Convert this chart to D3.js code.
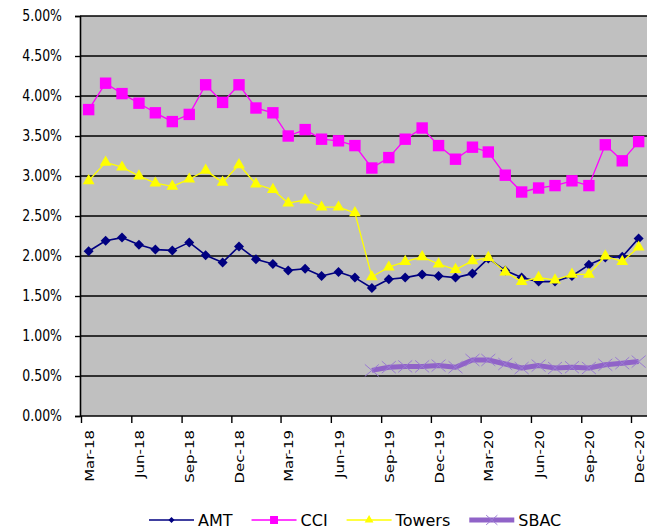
<!DOCTYPE html>
<html lang="en">
<head>
  <meta charset="utf-8"/>
  <title>Tower yields</title>
  <script src="https://cdnjs.cloudflare.com/ajax/libs/d3/7.8.5/d3.min.js"></script>
  <style>
    body { margin: 0; background: #fff; }
    svg text { font-family: "DejaVu Sans", Verdana, sans-serif; fill: #000; }
  </style>
</head>
<body>
<svg id="chart" width="647" height="531"></svg>
<script>
  // monthly categories, Mar-18 .. Dec-20
  var months = ["2018-03","2018-04","2018-05","2018-06","2018-07","2018-08","2018-09","2018-10","2018-11","2018-12",
                "2019-01","2019-02","2019-03","2019-04","2019-05","2019-06","2019-07","2019-08","2019-09","2019-10",
                "2019-11","2019-12","2020-01","2020-02","2020-03","2020-04","2020-05","2020-06","2020-07","2020-08",
                "2020-09","2020-10","2020-11","2020-12"];

  // values in percent
  var amt = [2.06, 2.19, 2.23, 2.14, 2.08, 2.07, 2.17, 2.01, 1.92, 2.12, 1.96, 1.90, 1.82, 1.84, 1.75, 1.80, 1.73,
             1.60, 1.71, 1.73, 1.77, 1.75, 1.73, 1.78, 1.97, 1.82, 1.73, 1.68, 1.68, 1.75, 1.89, 1.98, 1.99, 2.22];
  var cci = [3.83, 4.16, 4.03, 3.91, 3.79, 3.68, 3.77, 4.14, 3.92, 4.14, 3.85, 3.79, 3.50, 3.58, 3.46, 3.44, 3.38,
             3.10, 3.23, 3.46, 3.60, 3.38, 3.21, 3.36, 3.30, 3.01, 2.80, 2.85, 2.88, 2.94, 2.88, 3.39, 3.19, 3.43];
  var towers = [2.94, 3.17, 3.11, 3.00, 2.91, 2.87, 2.96, 3.07, 2.92, 3.14, 2.90, 2.83, 2.66, 2.70, 2.61, 2.61, 2.54,
                1.74, 1.86, 1.93, 1.99, 1.90, 1.83, 1.94, 1.98, 1.80, 1.68, 1.73, 1.70, 1.77, 1.77, 2.00, 1.93, 2.11];
  var sbac = [null, null, null, null, null, null, null, null, null, null, null, null, null, null, null, null, null,
              0.57, 0.61, 0.62, 0.62, 0.63, 0.61, 0.70, 0.70, 0.65, 0.60, 0.63, 0.60, 0.61, 0.60, 0.64, 0.66, 0.68];

  var yTicks = [0, 0.5, 1, 1.5, 2, 2.5, 3, 3.5, 4, 4.5, 5];

  var parseMonth = d3.timeParse("%Y-%m");
  var dates = months.map(function(m) { return parseMonth(m); });
  // points sit mid-month, like the excel date axis
  var mid = dates.map(function(d) { return d3.timeDay.offset(d, 14); });
  var labelDates = dates.filter(function(d, i) { return i % 3 === 0; });

  var svg = d3.select("#chart");
  var plotL = 80, plotR = 647, plotT = 16, plotB = 416;

  var x = d3.scaleTime()
    .domain([dates[0], dates[dates.length - 1]])
    .range([81, 631]);
  var y = d3.scaleLinear().domain([0, 5]).range([plotB, plotT]);

  svg.append("rect").attr("width", 647).attr("height", 531).attr("fill", "#fff");
  svg.append("rect")
    .attr("x", plotL).attr("y", plotT)
    .attr("width", plotR - plotL).attr("height", plotB - plotT)
    .attr("fill", "#c0c0c0");

  // gridlines
  svg.append("g").selectAll("line")
    .data(yTicks)
    .enter().append("line")
    .attr("x1", plotL).attr("x2", plotR)
    .attr("y1", function(d) { return y(d); })
    .attr("y2", function(d) { return y(d); })
    .attr("stroke", "#000")
    .attr("stroke-width", 1.6);

  // y axis
  var yAxis = svg.append("g")
    .attr("transform", "translate(" + plotL + ",0)")
    .call(d3.axisLeft(y).tickValues(yTicks).tickSize(5).tickPadding(13)
      .tickFormat(function(d) { return d.toFixed(2) + "%"; }));
  yAxis.select(".domain").attr("stroke", "#000").attr("stroke-width", 1.6);
  yAxis.selectAll(".tick line").attr("stroke", "#000").attr("stroke-width", 1.4);
  yAxis.selectAll(".tick text")
    .attr("font-size", 12.5)
    .attr("font-family", null)
    .attr("transform", "scale(1,1.2)");

  // x axis
  var xAxis = svg.append("g")
    .attr("transform", "translate(0," + plotB + ")")
    .call(d3.axisBottom(x).tickValues(labelDates).tickSize(7)
      .tickFormat(d3.timeFormat("%b-%y")));
  xAxis.select(".domain").remove();
  xAxis.selectAll(".tick line").attr("stroke", "#000").attr("stroke-width", 1.4);
  xAxis.selectAll(".tick text")
    .attr("font-size", 12)
    .attr("font-family", null)
    .attr("x", 0).attr("y", 0).attr("dy", "0.36em")
    .attr("text-anchor", "end")
    .attr("transform", "translate(8,14) rotate(-90) scale(1.25,1)");

  var line = d3.line()
    .defined(function(d) { return d[1] != null; })
    .x(function(d) { return x(d[0]); })
    .y(function(d) { return y(d[1]); });

  var crossPath = "M-7,-6L7,6M-7,6L7,-6";

  var series = [
    { name: "AMT", values: amt, color: "#000080", width: 1.6,
      marker: d3.symbol().type(d3.symbolSquare).size(50)(), rotate: 45, fill: "#000080", legendScale: 0.6 },
    { name: "CCI", values: cci, color: "#ff00ff", width: 1.3,
      marker: d3.symbol().type(d3.symbolSquare).size(130)(), rotate: 0, fill: "#ff00ff", legendScale: 0.7 },
    { name: "Towers", values: towers, color: "#ffff00", width: 1.3,
      marker: d3.symbol().type(d3.symbolTriangle).size(60)(), rotate: 0, fill: "#ffff00", legendScale: 0.75 },
    { name: "SBAC", values: sbac, color: "#9063c8", width: 5,
      marker: crossPath, rotate: 0, fill: "none", stroke: "#9a7bd2", legendScale: 0.8 }
  ];

  series.forEach(function(s) {
    var pts = mid.map(function(d, i) { return [d, s.values[i]]; });
    var g = svg.append("g");
    g.append("path")
      .datum(pts)
      .attr("d", line)
      .attr("fill", "none")
      .attr("stroke", s.color)
      .attr("stroke-width", s.width)
      .attr("stroke-linejoin", "round");
    g.selectAll(".mk")
      .data(pts.filter(function(p) { return p[1] != null; }))
      .enter().append("path")
      .attr("class", "mk")
      .attr("d", s.marker)
      .attr("transform", function(p) {
        return "translate(" + x(p[0]) + "," + y(p[1]) + ") rotate(" + s.rotate + ")";
      })
      .attr("fill", s.fill)
      .attr("stroke", s.stroke || "none")
      .attr("stroke-width", s.stroke ? 1 : 0);
  });

  // legend
  var lg = svg.append("g").attr("transform", "translate(149,520)");
  var cursor = 0;
  series.forEach(function(s) {
    var item = lg.append("g").attr("transform", "translate(" + cursor + ",0)");
    item.append("line")
      .attr("x1", 0).attr("x2", 45)
      .attr("stroke", s.color)
      .attr("stroke-width", s.name === "SBAC" ? 5 : 1.6);
    item.append("path")
      .attr("d", s.marker)
      .attr("transform", "translate(22.5,0) rotate(" + s.rotate + ") scale(" + s.legendScale + ")")
      .attr("fill", s.fill)
      .attr("stroke", s.stroke || "none")
      .attr("stroke-width", s.stroke ? 1.2 : 0);
    var t = item.append("text")
      .attr("x", 49).attr("dy", "0.36em")
      .attr("font-size", 16)
      .text(s.name);
    cursor += 49 + t.node().getComputedTextLength() + 19;
  });
</script>
</body>
</html>
